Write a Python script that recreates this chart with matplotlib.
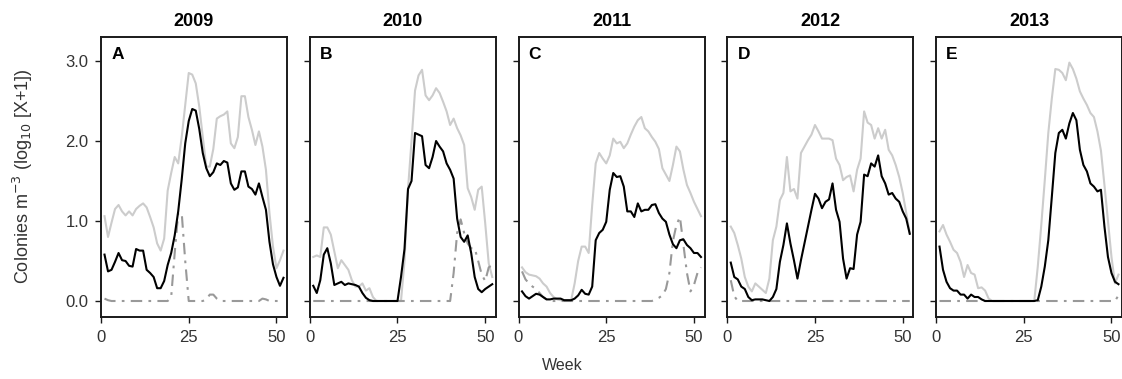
import matplotlib
matplotlib.use("Agg")

import matplotlib.pyplot as plt

plt.rcParams["font.family"] = ["Liberation Sans", "DejaVu Sans"]

# ── Data (weekly values, log10[X+1] colonies per m^3) ────────────────────────

weeks = list(range(1, 53))
years = ["2009", "2010", "2011", "2012", "2013"]
panel_tags = ["A", "B", "C", "D", "E"]

total_2009 = [1.06, 0.80, 0.98, 1.15, 1.20, 1.12, 1.07, 1.12, 1.07, 1.15, 1.19, 1.22, 1.17,
              1.05, 0.92, 0.72, 0.63, 0.78, 1.38, 1.60, 1.80, 1.72, 2.05, 2.45, 2.85, 2.83,
              2.72, 2.43, 2.05, 1.68, 1.68, 1.90, 2.28, 2.31, 2.33, 2.37, 1.97, 1.91, 2.05,
              2.56, 2.56, 2.30, 2.14, 1.95, 2.12, 1.93, 1.64, 1.10, 0.68, 0.41, 0.51, 0.63]
main_2009 = [0.58, 0.37, 0.39, 0.49, 0.60, 0.51, 0.50, 0.44, 0.43, 0.65, 0.63, 0.63, 0.39,
             0.35, 0.30, 0.16, 0.16, 0.25, 0.45, 0.60, 0.82, 1.12, 1.52, 1.97, 2.25, 2.40,
             2.38, 2.15, 1.85, 1.66, 1.56, 1.61, 1.72, 1.70, 1.75, 1.73, 1.47, 1.39, 1.42,
             1.62, 1.62, 1.43, 1.40, 1.33, 1.47, 1.30, 1.14, 0.74, 0.46, 0.30, 0.19, 0.29]
other_2009 = [0.03, 0.01, 0, 0, 0, 0, 0, 0, 0, 0, 0, 0, 0,
              0, 0, 0, 0, 0, 0, 0.05, 0.60, 1.10, 1.10, 0.50, 0, 0,
              0, 0, 0, 0.02, 0.08, 0.08, 0.03, 0, 0, 0, 0, 0, 0,
              0, 0, 0, 0, 0, 0, 0.03, 0.02, 0, 0, 0, 0, 0]

total_2010 = [0.55, 0.57, 0.55, 0.92, 0.92, 0.83, 0.62, 0.41, 0.51, 0.45, 0.39, 0.26, 0.18,
              0.18, 0.22, 0.13, 0.16, 0.05, 0, 0, 0, 0, 0, 0, 0, 0,
              0.50, 1.40, 2.00, 2.63, 2.82, 2.89, 2.57, 2.51, 2.57, 2.66, 2.60, 2.49, 2.37,
              2.20, 2.28, 2.16, 2.07, 1.95, 1.41, 1.30, 1.14, 1.39, 1.43, 0.97, 0.47, 0.30]
main_2010 = [0.19, 0.10, 0.26, 0.58, 0.66, 0.47, 0.20, 0.22, 0.24, 0.20, 0.22, 0.21, 0.20,
             0.18, 0.10, 0.04, 0.01, 0, 0, 0, 0, 0, 0, 0, 0, 0.30,
             0.65, 1.40, 1.50, 2.10, 2.08, 2.06, 1.70, 1.66, 1.80, 2.00, 1.93, 1.87, 1.72,
             1.64, 1.53, 1.03, 0.80, 0.74, 0.82, 0.60, 0.30, 0.15, 0.11, 0.15, 0.18, 0.21]
other_2010 = [0, 0, 0, 0, 0, 0, 0, 0, 0, 0, 0, 0, 0,
              0, 0, 0, 0, 0, 0, 0, 0, 0, 0, 0, 0, 0,
              0, 0, 0, 0, 0, 0, 0, 0, 0, 0, 0, 0, 0,
              0, 0.35, 0.85, 1.02, 0.85, 0.72, 0.66, 0.66, 0.50, 0.33, 0.25, 0.42, 0.45]

total_2011 = [0.42, 0.36, 0.33, 0.32, 0.31, 0.28, 0.22, 0.18, 0.10, 0.05, 0.02, 0.01, 0.01,
              0.01, 0.01, 0.22, 0.50, 0.68, 0.68, 0.60, 1.20, 1.72, 1.85, 1.78, 1.72, 1.82,
              2.03, 1.97, 1.99, 1.91, 1.97, 2.08, 2.18, 2.26, 2.30, 2.16, 2.12, 2.05, 1.99,
              1.90, 1.66, 1.58, 1.50, 1.70, 1.93, 1.87, 1.64, 1.45, 1.35, 1.24, 1.15, 1.06]
main_2011 = [0.12, 0.06, 0.03, 0.06, 0.09, 0.08, 0.05, 0.02, 0.02, 0.03, 0.03, 0.03, 0.01,
             0.01, 0.01, 0.03, 0.07, 0.14, 0.09, 0.08, 0.18, 0.76, 0.85, 0.89, 0.99, 1.39,
             1.60, 1.55, 1.56, 1.43, 1.12, 1.12, 1.05, 1.22, 1.12, 1.14, 1.14, 1.20, 1.21,
             1.10, 1.03, 0.99, 0.83, 0.71, 0.66, 0.76, 0.77, 0.70, 0.66, 0.60, 0.60, 0.55]
other_2011 = [0.37, 0.27, 0.22, 0.18, 0.15, 0.10, 0.05, 0.02, 0, 0, 0, 0, 0,
              0, 0, 0, 0, 0, 0, 0, 0, 0, 0, 0, 0, 0,
              0, 0, 0, 0, 0, 0, 0, 0, 0, 0, 0, 0, 0.02,
              0.04, 0.07, 0.15, 0.35, 0.75, 0.95, 1.05, 0.70, 0.35, 0.12, 0.20, 0.35, 0.42]

total_2012 = [0.93, 0.85, 0.70, 0.53, 0.30, 0.18, 0.12, 0.22, 0.18, 0.14, 0.10, 0.28, 0.76,
              0.93, 1.26, 1.35, 1.80, 1.37, 1.40, 1.28, 1.85, 1.93, 2.01, 2.08, 2.20, 2.12,
              2.03, 2.03, 2.03, 2.01, 1.78, 1.70, 1.51, 1.55, 1.57, 1.37, 1.64, 1.78, 2.37,
              2.23, 2.20, 2.03, 2.16, 2.03, 2.14, 1.89, 1.82, 1.70, 1.55, 1.35, 1.10, 0.85]
main_2012 = [0.48, 0.30, 0.27, 0.18, 0.15, 0.05, 0.01, 0.02, 0.02, 0.02, 0.01, 0, 0.05,
             0.15, 0.49, 0.70, 0.97, 0.72, 0.51, 0.28, 0.51, 0.72, 0.93, 1.14, 1.34, 1.28,
             1.16, 1.24, 1.27, 1.47, 1.14, 0.99, 0.53, 0.28, 0.41, 0.40, 0.83, 0.99, 1.58,
             1.56, 1.72, 1.68, 1.82, 1.56, 1.47, 1.33, 1.35, 1.28, 1.24, 1.12, 1.03, 0.84]
other_2012 = [0.26, 0.06, 0, 0, 0, 0, 0, 0, 0, 0, 0, 0, 0,
              0, 0, 0, 0, 0, 0, 0, 0, 0, 0, 0, 0, 0,
              0, 0, 0, 0, 0, 0, 0, 0, 0, 0, 0, 0, 0,
              0, 0, 0, 0, 0, 0, 0, 0, 0, 0, 0, 0, 0]

total_2013 = [0.87, 0.95, 0.83, 0.74, 0.64, 0.60, 0.49, 0.30, 0.45, 0.35, 0.33, 0.16, 0.17,
              0.13, 0.03, 0, 0, 0, 0, 0, 0, 0, 0, 0, 0, 0,
              0, 0, 0.43, 0.95, 1.51, 2.10, 2.53, 2.90, 2.89, 2.85, 2.76, 2.98, 2.90,
              2.78, 2.62, 2.53, 2.45, 2.35, 2.30, 2.12, 1.88, 1.45, 1.00, 0.55, 0.22, 0.33]
main_2013 = [0.68, 0.39, 0.24, 0.16, 0.13, 0.13, 0.08, 0.08, 0.03, 0.08, 0.05, 0.05, 0.02,
             0, 0, 0, 0, 0, 0, 0, 0, 0, 0, 0, 0, 0,
             0, 0, 0.01, 0.18, 0.43, 0.76, 1.30, 1.85, 2.10, 2.14, 2.03, 2.22, 2.35,
             2.26, 1.89, 1.70, 1.62, 1.47, 1.43, 1.37, 1.39, 0.93, 0.55, 0.35, 0.24, 0.21]
other_2013 = [0, 0, 0, 0, 0, 0, 0, 0, 0, 0, 0, 0, 0,
              0, 0, 0, 0, 0, 0, 0, 0, 0, 0, 0, 0, 0,
              0, 0, 0, 0, 0, 0, 0, 0, 0, 0, 0, 0, 0,
              0, 0, 0, 0, 0, 0, 0, 0, 0, 0, 0, 0, 0.07]

totals = [total_2009, total_2010, total_2011, total_2012, total_2013]
mains = [main_2009, main_2010, main_2011, main_2012, main_2013]
others = [other_2009, other_2010, other_2011, other_2012, other_2013]

y_ticks = [0.0, 1.0, 2.0, 3.0]
x_ticks = [0, 25, 50]

# ── Figure ───────────────────────────────────────────────────────────────────

W, H = 1122, 379
fig = plt.figure(figsize=(W / 100, H / 100), dpi=100)

TEXT = "#1a1a1a"
TICK_TXT = "#333333"

for i, year in enumerate(years):
    left = 101 + i * 208.75
    ax = fig.add_axes([left / W, (H - 317) / H, 186 / W, 280 / H])

    ax.plot(weeks, totals[i], color="#cccccc", lw=1.5, zorder=2)
    ax.plot(weeks, others[i], color="#999999", lw=1.5,
            linestyle=(0, (5.5, 3, 1.3, 3)), zorder=3)
    ax.plot(weeks, mains[i], color="black", lw=1.5, zorder=4)

    ax.set_xlim(0, 53)
    ax.set_ylim(-0.2, 3.3)
    ax.set_xticks(x_ticks)
    ax.set_yticks(y_ticks)
    if i == 0:
        ax.set_yticklabels([f"{v:.1f}" for v in y_ticks])
    else:
        ax.set_yticklabels([])

    ax.tick_params(direction="out", length=4, width=1.0, color=TEXT,
                   labelsize=12, labelcolor=TICK_TXT, pad=5)
    for sp in ax.spines.values():
        sp.set_linewidth(1.4)
        sp.set_color(TEXT)

    ax.set_title(year, fontsize=13, fontweight="bold", pad=8)
    ax.text(0.055, 0.965, panel_tags[i], transform=ax.transAxes, ha="left",
            va="top", fontsize=12.5, fontweight="bold")

fig.text(23 / W, 1 - 176 / H, "Colonies m$^{-3}$ (log$_{10}$ [X+1])",
         rotation=90, ha="center", va="center", fontsize=13, color=TICK_TXT)
fig.text(562 / W, 1 - 365 / H, "Week", ha="center", va="center",
         fontsize=11.5, color=TICK_TXT)

fig.savefig("out.png", dpi=100)
plt.close(fig)
